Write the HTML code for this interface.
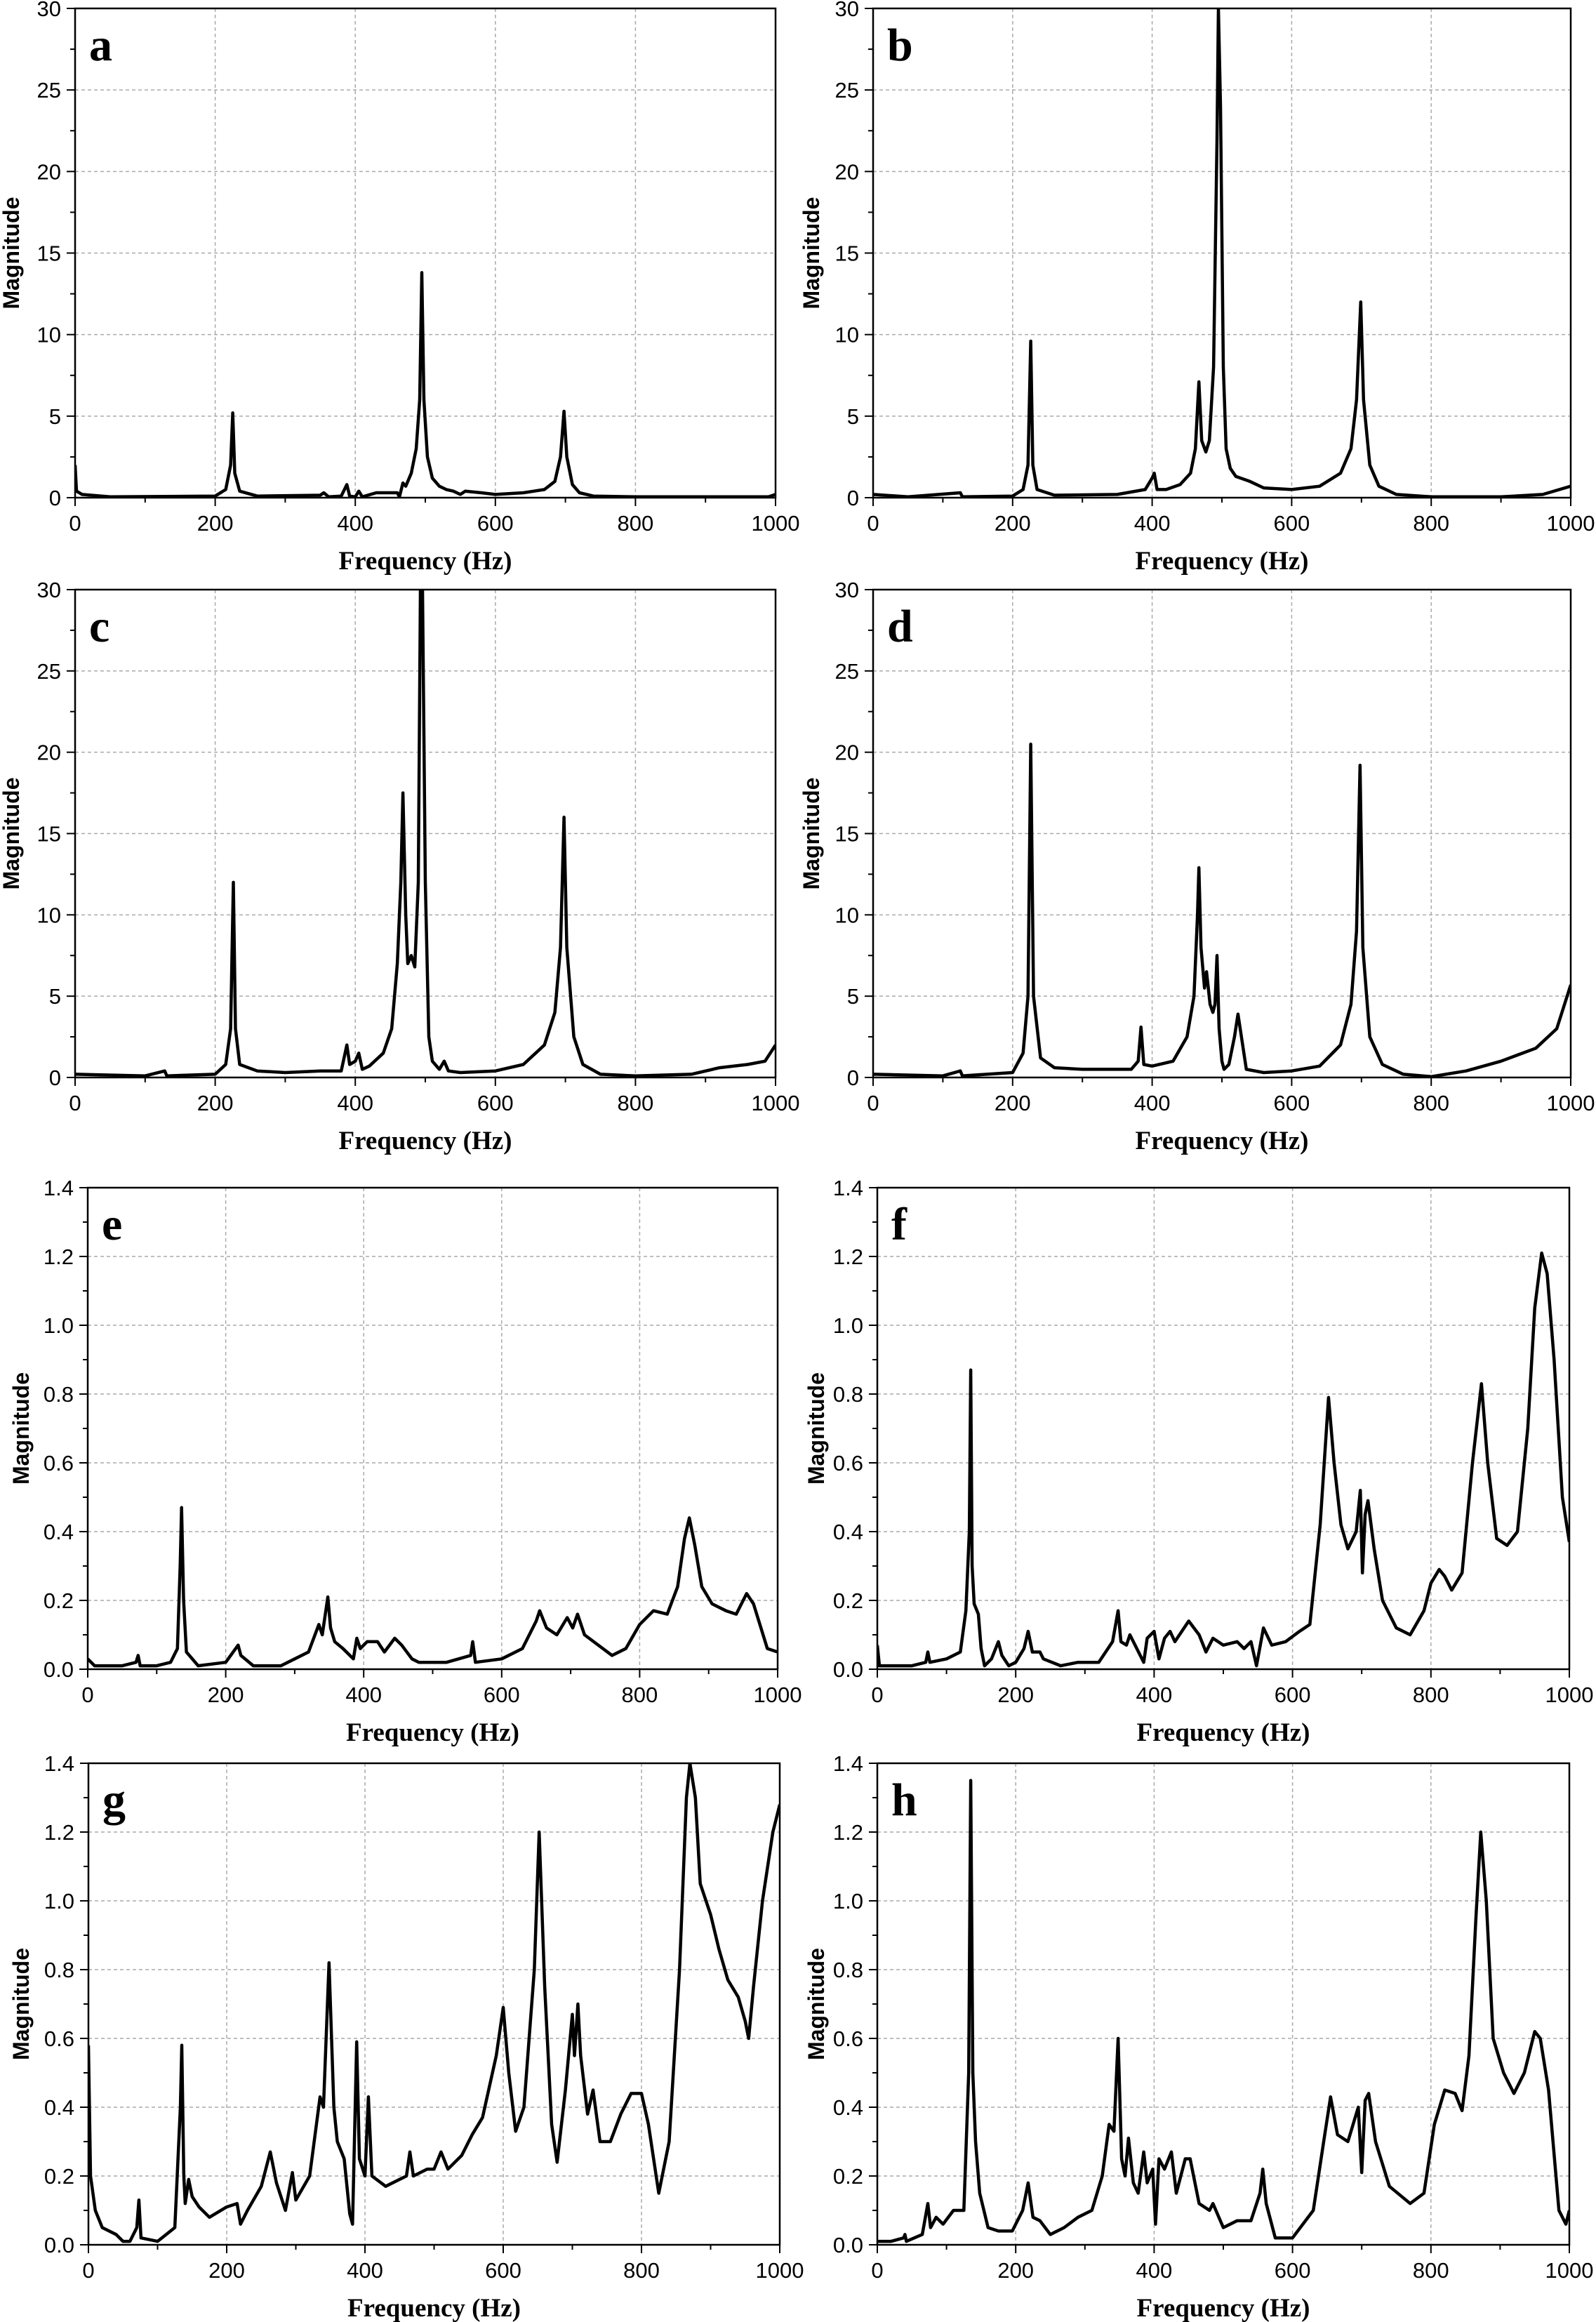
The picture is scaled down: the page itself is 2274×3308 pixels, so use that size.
<!DOCTYPE html>
<html><head><meta charset="utf-8"><style>
html,body{margin:0;padding:0;background:#fff;}
svg{display:block;}
.tick{font-family:"Liberation Sans Narrow","Liberation Sans",sans-serif;font-size:31px;fill:#000;}
.xt{font-family:"Liberation Serif",serif;font-weight:bold;font-size:37px;fill:#000;}
.yt{font-family:"Liberation Sans",sans-serif;font-weight:bold;font-size:32px;fill:#000;}
.pl{font-family:"Liberation Serif",serif;font-weight:bold;font-size:66px;fill:#000;}
</style></head><body>
<svg id="fig" width="2274" height="3308" viewBox="0 0 2274 3308" xmlns="http://www.w3.org/2000/svg"></svg>
<script>
const freqA=[0,2,10,50,200,215,222,225,228,235,260,350,355,362,380,388,392,400,405,410,430,460,463,468,472,480,487,492,495,498,503,510,520,530,540,550,557,580,600,640,670,685,693,698,702,710,720,740,800,990,1000];
const magA=[2,0.4,0.2,0.05,0.1,0.5,2,5.2,1.5,0.4,0.1,0.15,0.3,0.05,0.1,0.8,0.1,0.05,0.4,0.05,0.3,0.3,0.05,0.9,0.7,1.5,3,6,13.8,6,2.5,1.2,0.7,0.5,0.4,0.2,0.4,0.3,0.2,0.3,0.5,1,2.5,5.3,2.5,0.8,0.3,0.1,0.05,0.05,0.2];
const freqB=[0,50,125,128,200,215,222,226,229,235,260,350,390,400,403,407,420,440,455,462,467,471,477,482,488,493,495,498,502,506,512,520,540,560,600,640,670,685,693,699,703,712,725,750,800,900,960,1000];
const magB=[0.2,0.05,0.3,0.05,0.1,0.5,2,9.6,2,0.5,0.15,0.2,0.5,1.2,1.5,0.5,0.5,0.8,1.5,3,7.1,3.5,2.8,3.5,8,22,30,24,8,3,1.8,1.3,1,0.6,0.5,0.7,1.5,3,6,12,6,2,0.7,0.2,0.05,0.05,0.2,0.7];
const freqC=[0,100,128,131,200,215,222,226,229,235,260,300,350,380,388,392,400,405,410,420,440,452,460,465,468,472,475,480,485,490,493,496,500,505,510,520,527,533,550,600,640,670,685,693,698,702,712,725,750,800,880,920,960,985,1000];
const magC=[0.2,0.1,0.4,0.1,0.2,0.8,3,12,3,0.8,0.4,0.3,0.4,0.4,2,0.8,1,1.5,0.5,0.7,1.5,3,7,12,17.5,10,7,7.5,6.8,12,30,30,12,2.5,1,0.5,1,0.4,0.3,0.4,0.8,2,4,8,16,8,2.5,0.8,0.2,0.1,0.2,0.6,0.8,1,2];
const freqD=[0,100,125,128,200,215,222,226,230,240,260,300,370,380,384,388,400,430,450,460,465,467,470,475,478,483,487,490,493,496,500,503,510,518,523,528,535,560,600,640,670,685,693,698,702,712,730,760,800,850,900,950,980,1000];
const magD=[0.2,0.1,0.4,0.1,0.3,1.5,5,20.5,5,1.2,0.6,0.5,0.5,1,3.1,0.8,0.7,1,2.5,5,10,12.9,8,5.5,6.5,4.5,4,4.5,7.5,3,1,0.5,0.8,2.5,3.9,2.5,0.5,0.3,0.4,0.7,2,4.5,9,19.2,8,2.5,0.8,0.2,0.05,0.4,1,1.8,3,5.7];
const freqE=[0,10,50,70,73,76,100,120,130,134,136,139,143,160,200,218,222,240,280,300,320,335,340,348,352,358,370,385,390,395,405,420,430,445,455,470,480,520,555,558,562,600,630,650,655,665,680,695,703,710,720,760,780,800,820,840,855,865,872,880,890,905,925,940,955,965,985,1000];
const magE=[0.03,0.01,0.01,0.02,0.04,0.01,0.01,0.02,0.06,0.3,0.47,0.2,0.05,0.01,0.02,0.07,0.04,0.01,0.01,0.03,0.05,0.13,0.1,0.21,0.12,0.08,0.06,0.03,0.09,0.06,0.08,0.08,0.05,0.09,0.07,0.03,0.02,0.02,0.04,0.08,0.02,0.03,0.06,0.14,0.17,0.12,0.1,0.15,0.12,0.16,0.1,0.04,0.06,0.13,0.17,0.16,0.24,0.38,0.44,0.36,0.24,0.19,0.17,0.16,0.22,0.19,0.06,0.05];
const freqF=[0,3,50,70,73,76,100,120,128,133,135,137,140,146,150,155,165,175,180,190,200,212,218,224,235,240,265,290,320,340,348,352,360,365,385,390,400,407,415,423,430,450,465,475,485,500,520,530,540,548,558,570,590,610,625,640,652,660,670,680,692,698,701,705,709,718,730,750,770,790,800,812,820,830,845,860,873,882,895,910,925,940,950,960,968,978,990,1000];
const magF=[0.07,0.01,0.01,0.02,0.05,0.02,0.03,0.05,0.17,0.4,0.87,0.3,0.19,0.16,0.06,0.01,0.03,0.08,0.04,0.01,0.02,0.06,0.11,0.05,0.05,0.03,0.01,0.02,0.02,0.08,0.17,0.08,0.07,0.1,0.02,0.09,0.11,0.03,0.09,0.11,0.08,0.14,0.1,0.05,0.09,0.07,0.08,0.06,0.08,0.01,0.12,0.07,0.08,0.11,0.13,0.42,0.79,0.6,0.42,0.35,0.4,0.52,0.28,0.45,0.49,0.35,0.2,0.12,0.1,0.17,0.25,0.29,0.27,0.23,0.28,0.6,0.83,0.6,0.38,0.36,0.4,0.7,1.05,1.21,1.15,0.9,0.5,0.37];
const freqG=[0,3,10,20,40,50,60,70,73,76,100,125,133,135,138,140,145,150,160,175,200,215,220,230,250,263,272,285,295,300,320,335,340,348,355,360,370,378,382,388,392,400,405,410,430,460,465,470,490,500,510,520,540,555,570,590,600,608,618,630,645,652,660,670,678,690,700,703,708,712,722,730,740,755,770,785,800,810,825,840,855,865,870,878,885,900,912,925,940,950,955,962,975,990,1000];
const magG=[0.58,0.2,0.1,0.05,0.03,0.01,0.01,0.05,0.13,0.02,0.01,0.05,0.4,0.58,0.2,0.12,0.19,0.14,0.11,0.08,0.11,0.12,0.06,0.1,0.17,0.27,0.18,0.1,0.21,0.13,0.2,0.43,0.4,0.82,0.4,0.3,0.25,0.09,0.06,0.59,0.25,0.2,0.43,0.2,0.17,0.2,0.27,0.2,0.22,0.22,0.27,0.22,0.26,0.32,0.37,0.55,0.69,0.5,0.33,0.4,0.8,1.2,0.75,0.35,0.24,0.45,0.67,0.55,0.7,0.55,0.38,0.45,0.3,0.3,0.38,0.44,0.44,0.35,0.15,0.3,0.8,1.3,1.45,1.3,1.05,0.96,0.86,0.77,0.72,0.65,0.6,0.75,1.0,1.2,1.28];
const freqH=[0,20,38,40,42,65,73,77,85,95,110,125,132,135,138,142,148,160,175,195,210,218,225,235,250,270,290,310,325,335,342,348,353,358,363,370,377,385,390,398,402,407,415,425,432,445,452,465,480,485,500,520,540,553,557,562,575,600,630,645,655,665,680,695,700,705,710,720,740,770,790,805,820,835,845,855,865,872,880,890,905,920,935,950,958,970,985,995,1000];
const magH=[0.01,0.01,0.02,0.03,0.01,0.03,0.12,0.05,0.08,0.06,0.1,0.1,0.5,1.35,0.5,0.3,0.15,0.05,0.04,0.04,0.1,0.18,0.08,0.07,0.03,0.05,0.08,0.1,0.2,0.35,0.33,0.6,0.25,0.2,0.31,0.18,0.15,0.27,0.18,0.22,0.06,0.25,0.22,0.27,0.15,0.25,0.25,0.12,0.1,0.12,0.05,0.07,0.07,0.15,0.22,0.12,0.02,0.02,0.1,0.3,0.43,0.32,0.3,0.4,0.21,0.42,0.44,0.3,0.17,0.12,0.15,0.35,0.45,0.44,0.39,0.55,0.95,1.2,1.0,0.6,0.5,0.44,0.5,0.62,0.6,0.45,0.1,0.06,0.1];
const xTicks=[0,200,400,600,800,1000];
const yTicksBig=[0,5,10,15,20,25,30];
const yTicksSmall=[0,0.2,0.4,0.6,0.8,1.0,1.2,1.4];

const NS="http://www.w3.org/2000/svg";
const svg=document.getElementById('fig');
function mk(tag,attrs,parent){const e=document.createElementNS(NS,tag);for(const k in attrs)e.setAttribute(k,attrs[k]);parent.appendChild(e);return e;}

const panels=[
 {id:'a',L:107,R:1105,T:12,B:709,f:freqA,m:magA,ymax:30,yt:yTicksBig,dec:0,yl:16},
 {id:'b',L:1244,R:2238,T:12,B:709,f:freqB,m:magB,ymax:30,yt:yTicksBig,dec:0,yl:1156},
 {id:'c',L:107,R:1105,T:840,B:1535,f:freqC,m:magC,ymax:30,yt:yTicksBig,dec:0,yl:16},
 {id:'d',L:1244,R:2238,T:840,B:1535,f:freqD,m:magD,ymax:30,yt:yTicksBig,dec:0,yl:1156},
 {id:'e',L:125,R:1108,T:1692,B:2378,f:freqE,m:magE,ymax:1.4,yt:yTicksSmall,dec:1,yl:30},
 {id:'f',L:1250,R:2236,T:1692,B:2378,f:freqF,m:magF,ymax:1.4,yt:yTicksSmall,dec:1,yl:1163},
 {id:'g',L:126,R:1111,T:2512,B:3198,f:freqG,m:magG,ymax:1.4,yt:yTicksSmall,dec:1,yl:30},
 {id:'h',L:1250,R:2236,T:2512,B:3198,f:freqH,m:magH,ymax:1.4,yt:yTicksSmall,dec:1,yl:1163}
];

panels.forEach(p=>{
 const g=mk('g',{},svg);
 
 
 const xs=v=>p.L+(p.R-p.L)*v/1000;
 const ys=v=>p.B-(p.B-p.T)*Math.min(v,p.ymax)/p.ymax;
 // grid
 xTicks.forEach(t=>{if(t>0&&t<1000){const l=mk('line',{x1:xs(t),x2:xs(t),y1:p.T,y2:p.B,stroke:'#aaa','stroke-width':1.5,'stroke-dasharray':'5,4'},g);
   
   }});
 p.yt.forEach(t=>{if(t>0&&t<p.ymax-1e-9){const l=mk('line',{x1:p.L,x2:p.R,y1:ys(t),y2:ys(t),stroke:'#aaa','stroke-width':1.5,'stroke-dasharray':'5,4'},g);
   
   }});
 // ticks
 for(let t=0;t<=1000;t+=100){const len=(t%200===0)?12:7;mk('line',{x1:xs(t),x2:xs(t),y1:p.B,y2:p.B+len,stroke:'#000','stroke-width':2},g);}
 const step=p.yt[1]-p.yt[0];
 for(let i=0;i<p.yt.length*2-1;i++){const v=i*step/2;const len=(i%2===0)?12:7;mk('line',{x1:p.L-len,x2:p.L,y1:ys(v),y2:ys(v),stroke:'#000','stroke-width':2},g);}
 xTicks.forEach(t=>{const tx=mk('text',{x:xs(t),y:p.B+47,'text-anchor':'middle',class:'tick'},g);tx.textContent=t;
   
   });
 p.yt.forEach(t=>{const tx=mk('text',{x:p.L-20,y:ys(t)+11,'text-anchor':'end',class:'tick'},g);tx.textContent=t.toFixed(p.dec);
   
   });
 // series
 const pts=p.f.map((f,i)=>xs(f).toFixed(1)+','+ys(p.m[i]).toFixed(1)).join(' ');
 const cp=mk('clipPath',{id:'clip'+p.id},g);mk('rect',{x:p.L,y:p.T,width:p.R-p.L,height:p.B-p.T},cp);
 const ln=mk('polyline',{points:pts,fill:'none',stroke:'#000','stroke-width':4.5,'stroke-linejoin':'round','clip-path':'url(#clip'+p.id+')'},g);
 
 
 // frame
 const fr=mk('rect',{x:p.L,y:p.T,width:p.R-p.L,height:p.B-p.T,fill:'none',stroke:'#000','stroke-width':2.5},g);
 
 
 // labels
 const xl=mk('text',{x:(p.L+p.R)/2,y:p.B+102,'text-anchor':'middle',class:'xt'},g);xl.textContent='Frequency (Hz)';
 
 
 const cy=(p.T+p.B)/2;
 const yl=mk('text',{x:p.yl,y:cy,'text-anchor':'middle','dominant-baseline':'central',class:'yt',transform:'rotate(-90 '+p.yl+' '+cy+')'},g);yl.textContent='Magnitude';
 
 
 const pl=mk('text',{x:p.L+20,y:p.T+74,class:'pl'},g);pl.textContent=p.id;
 
 
});
</script>
</body></html>
